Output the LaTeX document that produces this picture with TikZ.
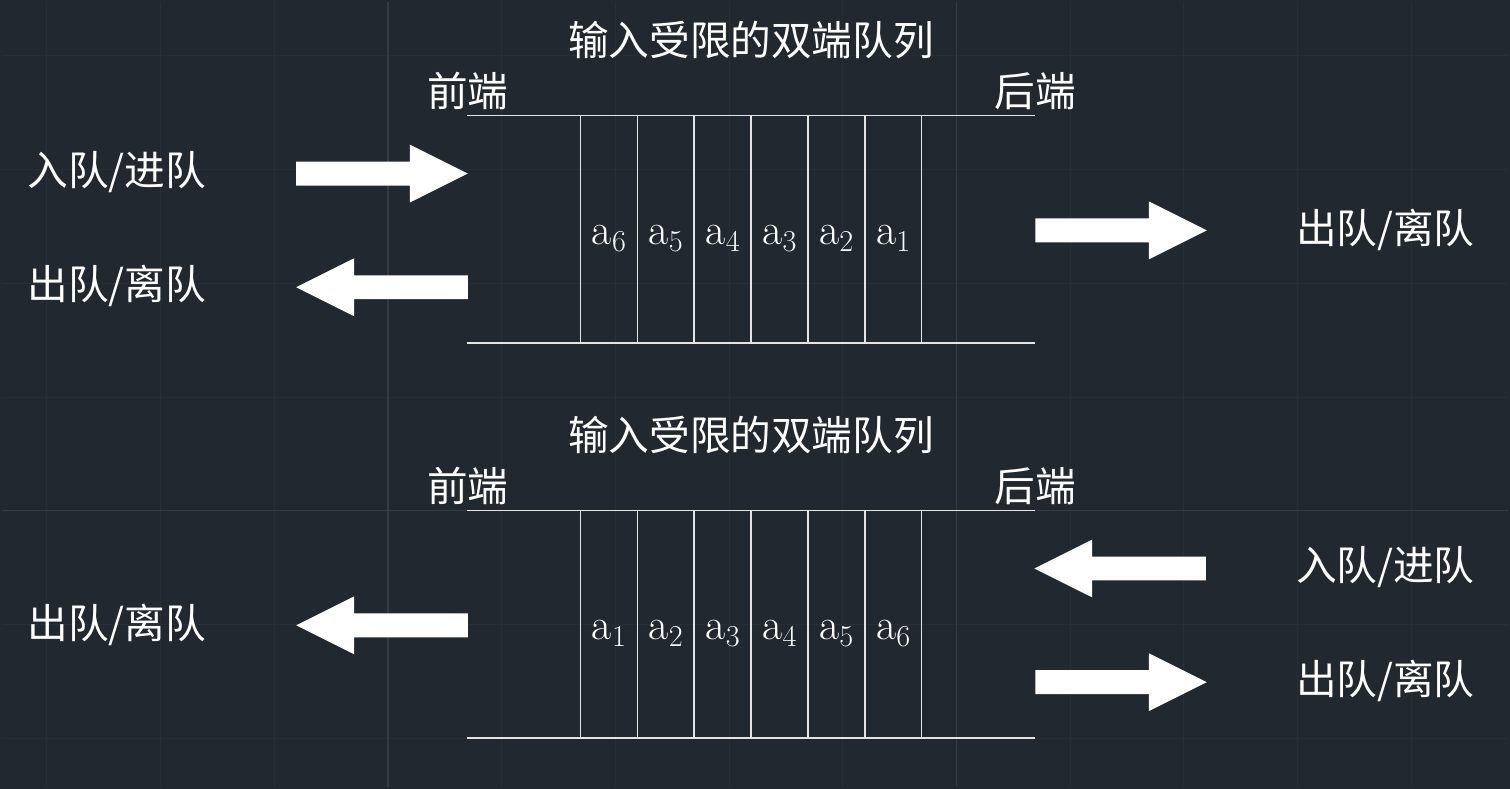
\documentclass[tikz,border=0pt]{standalone}
\usepackage{fontspec}
\usepackage{amsmath}
\newfontfamily\cjkfont{Noto Sans CJK SC}
\definecolor{bgcol}{HTML}{212830}
\definecolor{minorgrid}{HTML}{272E38}
\definecolor{majorgrid}{HTML}{333B48}
\definecolor{linecol}{HTML}{E4E4E4}

\begin{document}
\begin{tikzpicture}[x=0.02cm, y=-0.02cm,
    cjk/.style={font=\cjkfont\fontsize{23.2}{28}\selectfont, text=white, inner sep=0pt},
    cell/.style={font=\fontsize{25}{30}\selectfont, text=white, inner sep=0pt},
    qline/.style={linecol, line width=0.9pt},
    blockarrow/.pic={\fill[white] (0,-12) -- (114,-12) -- (114,-29) -- (172,0) -- (114,29) -- (114,12) -- (0,12) -- cycle;}]

    % Background and CAD grid
    \fill[bgcol] (-2,-2) rectangle (1512,789);
    \useasboundingbox (0,0) rectangle (1510,787);
    \foreach \gx in {45,159,...,1413} \draw[minorgrid, line width=0.5pt] (\gx,0) -- (\gx,787);
    \foreach \gy in {54,168,...,738} \draw[minorgrid, line width=0.5pt] (0,\gy) -- (1510,\gy);
    \draw[majorgrid, line width=0.6pt] (387,0) -- (387,787);
    \draw[majorgrid, line width=0.6pt] (957,0) -- (957,787);
    \draw[majorgrid, line width=0.6pt] (0,510) -- (1510,510);

    % Upper deque
    \node[cjk] (title1) at (751,38) {输入受限的双端队列};
    \node[cjk] (front1) at (467,89) {前端};
    \node[cjk] (rear1) at (1036,89) {后端};
    \draw[qline] (466,114) -- (1036,114);
    \draw[qline] (466,342) -- (1036,342);
    \foreach \cx in {580,637,...,922} \draw[qline] (\cx,114) -- (\cx,342);
    \foreach \i/\cx in {6/609,5/666,4/723,3/780,2/837,1/894}
        \node[cell] (up\i) at (\cx,237) {$\mathrm{a}_{\i}$};

    \node[cjk] (inL1) at (115,171) {入队/进队};
    \node[cjk] (outL1) at (115,285) {出队/离队};
    \node[cjk] (outR1) at (1387,229) {出队/离队};
    \pic at (295,172) {blockarrow};
    \pic[rotate=180] at (467,286) {blockarrow};
    \pic at (1036,229) {blockarrow};

    % Lower deque
    \node[cjk] (title2) at (751,434) {输入受限的双端队列};
    \node[cjk] (front2) at (467,485) {前端};
    \node[cjk] (rear2) at (1036,485) {后端};
    \draw[qline] (466,510) -- (1036,510);
    \draw[qline] (466,738) -- (1036,738);
    \foreach \cx in {580,637,...,922} \draw[qline] (\cx,510) -- (\cx,738);
    \foreach \i/\cx in {1/609,2/666,3/723,4/780,5/837,6/894}
        \node[cell] (lo\i) at (\cx,633) {$\mathrm{a}_{\i}$};

    \node[cjk] (outL2) at (115,625) {出队/离队};
    \node[cjk] (inR2) at (1387,567) {入队/进队};
    \node[cjk] (outR2) at (1387,681) {出队/离队};
    \pic[rotate=180] at (467,625) {blockarrow};
    \pic[rotate=180] at (1207,568) {blockarrow};
    \pic at (1036,682) {blockarrow};
\end{tikzpicture}
\end{document}
